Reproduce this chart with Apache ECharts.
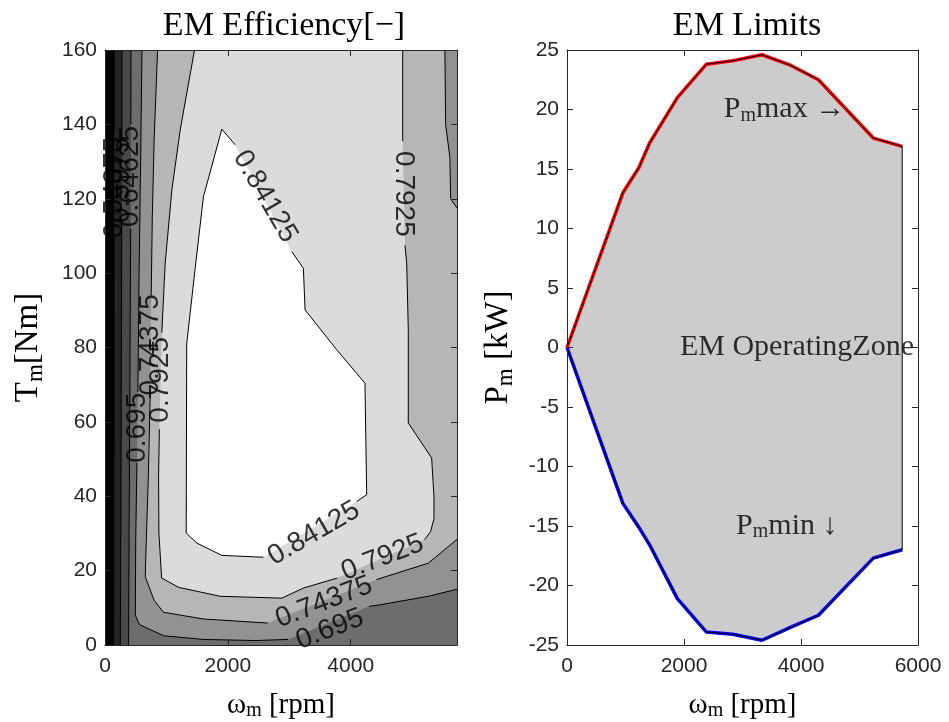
<!DOCTYPE html>
<html>
<head>
<meta charset="utf-8">
<title>EM maps</title>
<script src="https://cdn.jsdelivr.net/npm/echarts@6/dist/echarts.min.js"></script>
<style>
html, body { margin: 0; padding: 0; background: #fff; }
#main { width: 949px; height: 722px; }
</style>
</head>
<body>
<div id="main"></div>
<script>
// ---------------- data ----------------
var speedMax = 5730; // rpm, right end of the efficiency map

// efficiency contour levels and the gray fill above each one (MATLAB gray(8))
var effLevels = [0.54875, 0.5975, 0.64625, 0.695, 0.74375, 0.7925, 0.84125];
var effColors = ['#000000', '#242424', '#494949', '#6d6d6d', '#929292', '#b6b6b6', '#dbdbdb', '#ffffff'];

// contour lines [rpm, Nm], split where the inline labels sit
var c54875 = [
  [[151, 160], [150, 138]],
  [[148, 110], [146, 60], [143, 20], [140, 0]]
];
var c5975 = [
  [[276, 160], [275, 136]],
  [[272, 114], [264, 60], [255, 20], [249, 0]]
];
var c64625 = [
  [[423, 160], [421, 140]],
  [[418, 112], [405, 70], [392, 30], [384, 0]]
];
var c695 = [
  [[602, 160], [580, 130], [555, 100], [535, 68]],
  [[520, 49], [500, 28], [494, 8], [560, 5.5], [953, 2.5], [1600, 1.5], [2444, 1.2], [2980, 1.5]],
  [[4300, 10.4], [4476, 10.8], [5262, 13.1], [5730, 15]]
];
var c74375 = [
  [[856, 160], [800, 136], [770, 115], [752, 94]],
  [[735, 67], [705, 45], [672, 28], [655, 18.4], [800, 12], [953, 8.8], [1600, 7], [2650, 5.9]],
  [[4420, 17.6], [5262, 22], [5730, 28.4]]
];
var c74375b = [[5533, 160], [5545, 140], [5615, 131], [5626, 120], [5730, 117.5]];
var c7925 = [
  [[1457, 160], [1224, 138.5], [1089, 122.4], [980, 102.7], [925, 84]],
  [[885, 58], [872, 45], [878, 30], [922, 18], [1200, 15.5], [1875, 13.1], [2878, 12.6], [3229, 15.3], [3780, 18]],
  [[5200, 28.3], [5300, 30.5], [5355, 34], [5355, 40], [5317, 50.3], [4937, 59.7], [4937, 84.8], [4911, 102.7], [4883, 107.5]],
  [[4846, 135.5], [4846, 160]]
];
var c84125 = [
  [[1902, 138.7], [2119, 134.5]],
  [[3040, 105.8], [3229, 101.3], [3257, 90.1], [3772, 79.4], [4232, 70.4], [4260, 40.4], [4098, 38.6]],
  [[2579, 23.6], [1902, 24.1], [1496, 27.4], [1322, 30.1], [1330, 81], [1468, 101.3], [1603, 120.6], [1902, 138.7]]
];

// inline contour labels: text, rpm, Nm, angle
var effLabels = [
  ['0.54875', 150, 123, 90],
  ['0.5975', 270, 125, 90],
  ['0.64625', 405, 126, 90],
  ['0.695', 527, 58.4, 90],
  ['0.74375', 745, 80.7, 90],
  ['0.7925', 895, 71.3, 90],
  ['0.7925', 4860, 121.3, -90],
  ['0.84125', 2606, 120.6, -60],
  ['0.84125', 3400, 30, 30],
  ['0.7925', 4517, 23.5, 21],
  ['0.74375', 3566, 11.5, 21],
  ['0.695', 3660, 4.2, 21]
];

// EM limits
var limSpeed = [0, 955, 1227, 1414, 1886, 2380, 2833, 3334, 3828, 4298, 5235, 5730];
var limPmax = [0, 13.0, 15.1, 17.2, 21.0, 23.8, 24.1, 24.6, 23.7, 22.5, 17.6, 16.9];
var limPmin = [0, -13.1, -15.1, -16.6, -21.1, -23.9, -24.1, -24.6, -23.5, -22.5, -17.7, -17.0];

// ---------------- helpers ----------------
var SANS = 'Liberation Sans';
var SERIF = 'Liberation Serif';
var AXC = '#262626';

function flat(segs) {
  return segs.reduce(function (a, s) { return a.concat(s); }, []);
}
function pairs(xs, ys) {
  return xs.map(function (x, i) { return [x, ys[i]]; });
}

function fillSeries(g, pts, color) {
  return {
    type: 'custom', xAxisIndex: g * 2, yAxisIndex: g * 2, data: pts, silent: true, z: 1,
    renderItem: function (params, api) {
      if (params.dataIndex !== 0) return null;
      var pp = pts.map(function (d) { return api.coord(d); });
      return { type: 'polygon', shape: { points: pp }, style: { fill: color } };
    }
  };
}
function lineSeries(g, pts, color, width, z) {
  return {
    type: 'line', xAxisIndex: g * 2, yAxisIndex: g * 2, data: pts, symbol: 'none',
    lineStyle: { color: color, width: width }, z: z, silent: true
  };
}

function richName(size) {
  return {
    n: { fontFamily: SERIF, fontSize: size, color: '#000' },
    s: { fontFamily: SERIF, fontSize: Math.round(size * 0.7), color: '#000', padding: [Math.round(size * 0.42), 0, 0, 0] }
  };
}
function plainNum(v) { return String(v); }

function xAx(g, pos, max, name) {
  var a = {
    gridIndex: g, type: 'value', position: pos, min: 0, max: max, interval: 2000, z: 10,
    axisLine: { show: true, onZero: false, lineStyle: { color: AXC, width: 1 } },
    axisTick: { show: true, inside: true, length: 6, lineStyle: { color: AXC } },
    axisLabel: { show: pos === 'bottom', showMaxLabel: max === 6000, formatter: plainNum,
      fontFamily: SANS, fontSize: 21, color: AXC, margin: 11 },
    splitLine: { show: false }
  };
  if (name) {
    a.name = name; a.nameLocation = 'middle'; a.nameGap = 44;
    a.nameTextStyle = { rich: richName(29) };
  }
  return a;
}
function yAx(g, pos, min, max, step, name, gap) {
  var a = {
    gridIndex: g, type: 'value', position: pos, min: min, max: max, interval: step, z: 10,
    axisLine: { show: true, onZero: false, lineStyle: { color: AXC, width: 1 } },
    axisTick: { show: true, inside: true, length: 6, lineStyle: { color: AXC } },
    axisLabel: { show: pos === 'left', formatter: plainNum, fontFamily: SANS, fontSize: 21, color: AXC, margin: 8 },
    splitLine: { show: false }
  };
  if (name) {
    a.name = name; a.nameLocation = 'middle'; a.nameGap = gap;
    a.nameTextStyle = { rich: richName(33) };
  }
  return a;
}

// ---------------- series ----------------
var series = [];

// filled contours, painted from the lowest level up
series.push(fillSeries(0, [[0, 0], [speedMax, 0], [speedMax, 160], [0, 160]], effColors[0]));
series.push(fillSeries(0, flat(c54875).concat([[speedMax, 0], [speedMax, 160]]), effColors[1]));
series.push(fillSeries(0, flat(c5975).concat([[speedMax, 0], [speedMax, 160]]), effColors[2]));
series.push(fillSeries(0, flat(c64625).concat([[speedMax, 0], [speedMax, 160]]), effColors[3]));
series.push(fillSeries(0, flat(c695).concat([[speedMax, 160]]), effColors[4]));
series.push(fillSeries(0, flat(c74375).concat(c74375b.slice().reverse()), effColors[5]));
series.push(fillSeries(0, flat(c7925), effColors[6]));
series.push(fillSeries(0, flat(c84125), effColors[7]));

// contour lines
[c54875, c5975, c64625, c695, c74375, [c74375b], c7925, c84125].forEach(function (c) {
  c.forEach(function (seg) { series.push(lineSeries(0, seg, '#000', 1, 5)); });
});

// contour labels
series.push({
  type: 'scatter', xAxisIndex: 0, yAxisIndex: 0, symbolSize: 0, silent: true, z: 6,
  data: effLabels.map(function (l) {
    return { name: l[0], value: [l[1], l[2]], label: { rotate: l[3] } };
  }),
  label: {
    show: true, position: 'inside', formatter: '{b}', fontFamily: SANS, fontSize: 28, color: '#000'
  }
});

// EM limits: zone, max / min curves, outline
var zone = pairs(limSpeed, limPmax).concat(pairs(limSpeed, limPmin).reverse());
series.push(fillSeries(1, zone, '#cccccc'));
series.push(lineSeries(1, pairs(limSpeed, limPmax), '#ff0000', 3.5, 3));
series.push(lineSeries(1, pairs(limSpeed, limPmin), '#0000ff', 3.5, 3));
series.push(lineSeries(1, zone.concat([zone[0]]), '#000', 1, 4));

// text annotations
series.push({
  type: 'scatter', xAxisIndex: 2, yAxisIndex: 2, symbolSize: 0, silent: true, z: 6,
  data: [
    { value: [2680, 20], label: { formatter: '{n|P}{s|m}{n|max \u2192}' } },
    { value: [1930, 0], label: { formatter: '{n|EM OperatingZone}' } },
    { value: [2890, -15], label: { formatter: '{n|P}{s|m}{n|min \u2193}' } }
  ],
  label: {
    show: true, position: 'right', distance: 0,
    rich: {
      n: { fontFamily: SERIF, fontSize: 30, color: '#000' },
      s: { fontFamily: SERIF, fontSize: 20, color: '#000', padding: [12, 0, 0, 0] }
    }
  }
});

var option = {
  animation: false,
  backgroundColor: '#fff',
  title: [
    { text: 'EM Efficiency[\u2212]', left: 279, top: 4, textAlign: 'center',
      textStyle: { fontFamily: SERIF, fontWeight: 'normal', fontSize: 34, color: '#000' } },
    { text: 'EM Limits', left: 742, top: 4, textAlign: 'center',
      textStyle: { fontFamily: SERIF, fontWeight: 'normal', fontSize: 34, color: '#000' } }
  ],
  grid: [
    { left: 105, top: 50, width: 352, height: 595, outerBoundsMode: 'none', containLabel: false },
    { left: 567, top: 50, width: 351, height: 595, outerBoundsMode: 'none', containLabel: false }
  ],
  xAxis: [
    xAx(0, 'bottom', speedMax, '{n|\u03c9}{s|m}{n| [rpm]}'),
    xAx(0, 'top', speedMax),
    xAx(1, 'bottom', 6000, '{n|\u03c9}{s|m}{n| [rpm]}'),
    xAx(1, 'top', 6000)
  ],
  yAxis: [
    yAx(0, 'left', 0, 160, 20, '{n|T}{s|m}{n|[Nm]}', 58),
    yAx(0, 'right', 0, 160, 20),
    yAx(1, 'left', -25, 25, 5, '{n|P}{s|m}{n| [kW]}', 50),
    yAx(1, 'right', -25, 25, 5)
  ],
  series: series
};

var chart = echarts.init(document.getElementById('main'));
chart.setOption(option);
</script>
</body>
</html>
